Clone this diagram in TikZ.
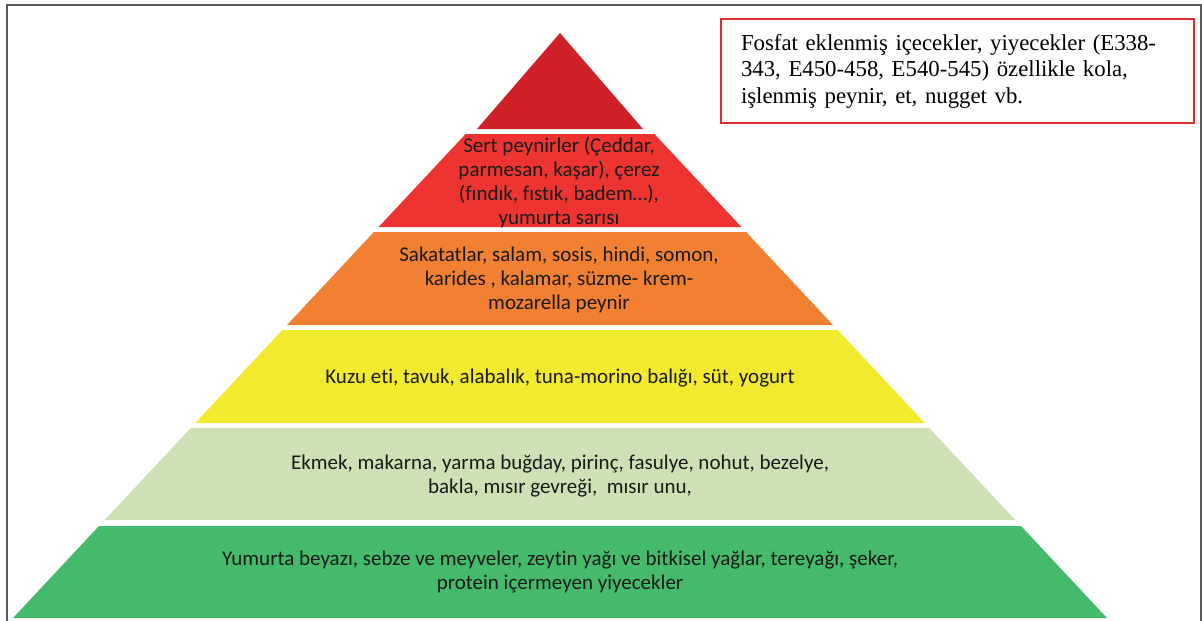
\documentclass[tikz,border=0pt]{standalone}
\usepackage{fontspec}
\setmainfont[Ligatures=NoCommon]{Carlito}
\newfontfamily\boxfont{Liberation Serif}
\definecolor{topred}{HTML}{CF1F27}
\definecolor{layred}{HTML}{EE3430}
\definecolor{layorange}{HTML}{F28032}
\definecolor{layyellow}{HTML}{F2EA2E}
\definecolor{laylight}{HTML}{CEE0B5}
\definecolor{laygreen}{HTML}{45B96C}
\definecolor{boxred}{HTML}{D8302E}
\definecolor{inktext}{HTML}{1A1A1A}
\tikzstyle{label} = [text=inktext, align=center, font=\fontsize{21}{24}\selectfont, inner sep=0pt]
\tikzstyle{note} = [draw=boxred, line width=2pt, minimum width=473pt, minimum height=104pt, text width=433pt, align=left, inner sep=0pt, font=\boxfont\fontsize{22.8}{26.5}\selectfont]
\tikzstyle{frame} = [draw=black!65, line width=2pt]

\begin{document}
\begin{tikzpicture}[x=1pt, y=-1pt]
	\useasboundingbox (0,0) rectangle (1202,621);
	\draw [frame] (7,621) -- (7,5) -- (1201,5) -- (1201,621);

	% pyramid layers, top to bottom
	\fill [topred] (560,33) -- (643,129) -- (477,129) -- cycle;
	\fill [layred] (465.6,134) -- (654.4,134) -- (741.4,227) -- (378.6,227) -- cycle;
	\fill [layorange] (373.9,232) -- (746.1,232) -- (833,325) -- (287,325) -- cycle;
	\fill [layyellow] (282.3,330) -- (837.7,330) -- (924.7,423) -- (195.3,423) -- cycle;
	\fill [laylight] (190.7,428) -- (929.3,428) -- (1015.3,520) -- (104.7,520) -- cycle;
	\fill [laygreen] (99,526) -- (1021,526) -- (1107,618) -- (13,618) -- cycle;

	\node (hard) [label] at (559,183) {Sert peynirler (Çeddar,\\ parmesan, kaşar), çerez\\ (fındık, fıstık, badem…),\\ yumurta sarısı};
	\node (offal) [label] at (559,280) {Sakatatlar, salam, sosis, hindi, somon,\\ karides , kalamar, süzme- krem-\\ mozarella peynir};
	\node (meat) [label] at (560,378) {Kuzu eti, tavuk, alabalık, tuna-morino balığı, süt, yogurt};
	\node (grain) [label] at (560,476) {Ekmek, makarna, yarma buğday, pirinç, fasulye, nohut, bezelye,\\ bakla, mısır gevreği,~ mısır unu,};
	\node (free) [label] at (560,572) {Yumurta beyazı, sebze ve meyveler, zeytin yağı ve bitkisel yağlar, tereyağı, şeker,\\ protein içermeyen yiyecekler};

	\node (phos) [note] at (957.5,71) {Fosfat eklenmiş içecekler, yiyecekler (E338-\\ 343, E450-458, E540-545) özellikle kola,\\ işlenmiş peynir, et, nugget vb.};
\end{tikzpicture}
\end{document}
